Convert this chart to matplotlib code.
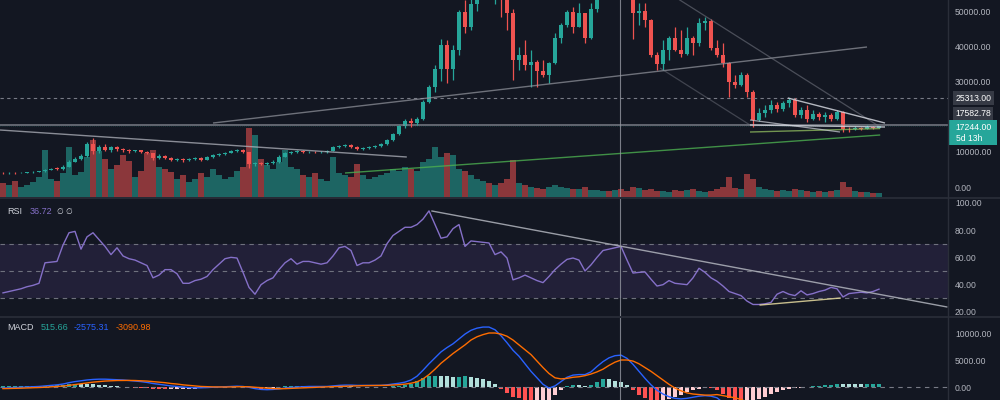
import matplotlib
matplotlib.use('Agg')
import matplotlib.pyplot as plt
import matplotlib.transforms as mtransforms
from matplotlib.patches import Rectangle
from matplotlib.lines import Line2D
import numpy as np

plt.rcParams['font.family'] = ['Liberation Sans', 'DejaVu Sans']

# ---------------- data ----------------
opens = [
    4100, 4000, 4050, 4000, 4100, 4200, 4300, 4500, 5000, 5300,
    5200, 5800, 7300, 8000, 8800, 12300, 10300, 11400, 10600, 11300,
    10800, 10500, 10200, 10500, 10000, 9600, 8300, 8900, 8300, 7700,
    8000, 7600, 8000, 8300, 7800, 8600, 9100, 9300, 9800, 10200,
    10600, 9900, 6600, 6900, 6700, 6900, 7200, 8700, 9600, 10000,
    10300, 10000, 10100, 9900, 10000, 10300, 11400, 11700, 12000, 11400,
    10900, 11100, 11400, 11700, 12300, 13400, 15000, 17400, 18800, 18200,
    19300, 24200, 28400, 33600, 40300, 33600, 38900, 49700, 45500, 52000,
    57000, 58000, 56000, 58500, 53000, 49500, 36100, 37500, 34700, 35500,
    33000, 31800, 35300, 42300, 46000, 49700, 45500, 49400, 42300, 50500,
    55900, 61600, 60000, 66000, 64000, 57500, 49400, 50000, 47400, 37500,
    35000, 38900, 42300, 39000, 37800, 42300, 40900, 46500, 47300, 39500,
    37500, 35200, 29900, 29000, 31800, 26900, 19100, 21000, 21900, 23300,
    22200, 23900, 24800, 20500, 21900, 19400, 20800, 19900, 20500, 19400,
    21300, 16600, 16400, 16900, 16600, 17000, 16900,
]
closes = [
    4000, 4050, 4000, 4100, 4200, 4300, 4500, 5000, 5300, 5200,
    5800, 7300, 8000, 8800, 12300, 10300, 11400, 10600, 11300, 10800,
    10500, 10200, 10500, 10000, 9600, 8300, 8900, 8300, 7700, 8000,
    7600, 8000, 8300, 7800, 8600, 9100, 9300, 9800, 10200, 10600,
    9900, 6600, 6900, 6700, 6900, 7200, 8700, 9600, 10000, 10300,
    10000, 10100, 9900, 10000, 10300, 11400, 11700, 12000, 11400, 10900,
    11100, 11400, 11700, 12300, 13400, 15000, 17400, 18800, 18200, 19300,
    24200, 28400, 33600, 40300, 33600, 38900, 49700, 45500, 52000, 57000,
    58000, 56000, 58500, 53000, 49500, 36100, 37500, 34700, 35500, 33000,
    31800, 35300, 42300, 46000, 49700, 45500, 49400, 42300, 50500, 55900,
    61600, 60000, 66000, 64000, 57500, 49400, 50000, 47400, 37500, 35000,
    38900, 42300, 39000, 37800, 42300, 40900, 46500, 47300, 39500, 37500,
    35200, 29900, 29000, 31800, 26900, 19100, 21000, 21900, 23300, 22200,
    23900, 24800, 20500, 21900, 19400, 20800, 19900, 20500, 19400, 21300,
    16600, 16400, 16900, 16600, 17000, 16900, 17244,
]
highs = [
    4300, 4200, 4200, 4300, 4400, 4500, 4700, 5300, 5600, 5700,
    6200, 7700, 8500, 9400, 12900, 13900, 12000, 12200, 11800, 11600,
    11000, 10900, 10700, 10700, 10300, 9800, 9300, 9200, 8500, 8300,
    8200, 8300, 8600, 8500, 8900, 9400, 9600, 10100, 10500, 10900,
    10800, 10100, 7200, 7200, 7200, 7600, 9100, 10100, 10300, 10600,
    10500, 10400, 10300, 10300, 10500, 11800, 12100, 12300, 12200, 11600,
    11400, 11700, 12000, 12600, 13700, 15300, 17800, 19300, 19600, 19900,
    24800, 29000, 34700, 42100, 41800, 40300, 50300, 53000, 55000, 59000,
    61000, 60000, 61500, 59500, 55000, 50500, 39800, 41800, 38900, 36100,
    36100, 35500, 43800, 46600, 50300, 51100, 52300, 49500, 52300, 58000,
    63000, 64800, 69000, 68500, 66500, 59000, 52300, 52300, 47700, 38500,
    41800, 43000, 45500, 44600, 45500, 43000, 48000, 48300, 47700, 41800,
    40900, 35500, 31800, 32700, 32300, 27500, 22500, 23300, 24800, 24200,
    24500, 25400, 25300, 22800, 23300, 21900, 21300, 21300, 21000, 21900,
    21600, 17100, 17300, 17200, 17600, 17400, 17500,
]
lows = [
    3800, 3850, 3800, 3900, 3950, 4100, 4200, 4400, 4900, 4900,
    5000, 5700, 7200, 7800, 8600, 9500, 9800, 10300, 10000, 10400,
    10000, 9800, 9900, 9600, 9300, 7800, 8000, 8000, 7400, 7500,
    7300, 7400, 7800, 7500, 7700, 8400, 8900, 9100, 9600, 9900,
    9600, 5500, 6000, 6300, 6400, 6700, 7000, 8600, 9400, 9800,
    9700, 9800, 9700, 9800, 9800, 10200, 11200, 11500, 11100, 10600,
    10700, 10900, 11200, 11400, 12000, 13100, 14800, 16800, 17100, 17700,
    19100, 24000, 27000, 30000, 29600, 30400, 37500, 43800, 44600, 50000,
    53500, 54000, 52000, 48300, 44600, 30400, 33300, 33300, 28400, 28400,
    31300, 29600, 35000, 40900, 45500, 43800, 45500, 41000, 42000, 49700,
    54500, 57000, 59000, 61000, 55500, 42000, 46000, 45500, 36900, 33300,
    33300, 36000, 38700, 37000, 37600, 37500, 40000, 44600, 38900, 36900,
    34100, 25600, 28100, 28600, 25600, 17100, 18800, 20000, 21000, 21300,
    21600, 22800, 19900, 19600, 18500, 19100, 19100, 18500, 18800, 19100,
    15600, 15800, 16200, 16300, 16400, 16600, 16800,
]
volume = [
    14, 12, 16, 10, 12, 15, 20, 47, 18, 16,
    24, 50, 22, 25, 40, 57, 46, 38, 28, 32,
    42, 36, 20, 26, 44, 47, 30, 28, 25, 18,
    22, 15, 18, 24, 20, 28, 22, 18, 20, 26,
    30, 69, 62, 38, 32, 28, 35, 47, 30, 28,
    22, 20, 24, 18, 16, 40, 24, 22, 20, 33,
    22, 18, 20, 22, 24, 28, 26, 30, 28, 26,
    35, 38, 50, 40, 44, 42, 28, 26, 22, 18,
    16, 14, 12, 14, 18, 37, 14, 12, 10, 9,
    8, 10, 12, 10, 9, 8, 8, 10, 7, 7,
    6, 6, 7, 8, 6, 10, 9, 7, 8, 6,
    6, 5, 7, 6, 7, 8, 6, 5, 6, 8,
    10, 20, 9, 8, 23, 18, 10, 8, 7, 6,
    7, 6, 8, 7, 6, 5, 6, 5, 6, 7,
    15, 10, 6, 5, 5, 4, 4,
]
rsi = [
    34, 35, 36, 37, 38.5, 39.5, 41, 56, 56.5, 57,
    69, 78, 79, 66, 75, 78, 73, 68, 62, 67,
    61, 59, 58, 56, 54, 45, 47, 51, 51, 48,
    41, 41, 43, 44, 46, 51, 55, 59, 60, 59.5,
    49, 38, 33, 40, 43, 45, 51, 56, 59, 55,
    57, 57, 56, 55, 56, 61, 67, 68, 65, 54,
    56, 56, 58, 61, 70, 76, 79, 82, 82, 84,
    88, 94, 84, 74, 75, 81, 84, 68, 72, 71.5,
    71, 70.5, 62, 64, 59.5, 43.5, 45, 47, 45, 43,
    41.5, 46, 51, 55, 58.5, 59.5, 58, 50, 54.5, 60,
    65, 66, 67, 68, 58, 48.5, 49, 49.3, 44, 39,
    40, 43, 41, 40.5, 40, 45, 52, 49, 45, 42.5,
    39, 35, 33.5, 32, 28, 25.5, 25.5, 26, 27, 33,
    35, 33, 32, 35.5, 32.5, 33.5, 35, 36, 38, 37,
    31, 33.5, 34, 34.5, 34, 35, 36.72,
]
macd = [
    -200, -150, -100, -50, 0, 50, 100, 200, 300, 400,
    550, 800, 1000, 1150, 1300, 1400, 1450, 1450, 1400, 1350,
    1300, 1200, 1100, 1000, 850, 650, 500, 350, 200, 100,
    0, -100, -150, -150, -100, -50, 0, 50, 100, 150,
    100, -50, -300, -450, -500, -450, -350, -200, -100, 0,
    50, 100, 100, 100, 100, 200, 300, 350, 350, 300,
    300, 300, 300, 300, 400, 550, 700, 900, 1300, 2000,
    3100, 4300, 5400, 6500, 7300, 8000, 8900, 9800, 10500, 10900,
    11100, 11100, 10600, 9500, 8200, 6800, 5700, 4300, 2900, 1700,
    500, -200, 200, 1000, 1800, 2200, 2300, 2300, 2800, 3800,
    4700, 5400, 5800, 5900, 5300, 4200, 2900, 1600, 400, -600,
    -1300, -1800, -2100, -2200, -2100, -1900, -1700, -1600, -1700, -2000,
    -2900, -3800, -4600, -5100, -5600, -6000, -6100, -6000, -5800, -5600,
    -5400, -5100, -4850, -4600, -4350, -4100, -3850, -3600, -3350, -3100,
    -3000, -2900, -2800, -2720, -2650, -2600, -2575.31,
]
signal = [
    -300, -280, -250, -220, -180, -140, -100, -50, 20, 100,
    180, 300, 450, 600, 750, 900, 1000, 1100, 1150, 1200,
    1220, 1220, 1200, 1150, 1100, 1000, 900, 800, 650, 550,
    400, 300, 200, 100, 50, 20, 0, 0, 20, 50,
    60, 40, -50, -150, -250, -300, -320, -300, -250, -200,
    -150, -100, -50, 0, 30, 70, 120, 170, 210, 230,
    250, 260, 280, 290, 310, 360, 430, 530, 700, 950,
    1500, 2300, 3300, 4400, 5300, 6200, 7000, 7800, 8700, 9300,
    9700, 10000, 10000, 9800, 9400, 8700, 7800, 6900, 6000, 4800,
    3600, 2500, 1700, 1500, 1600, 1800, 1900, 2100, 2400, 2800,
    3300, 4000, 4600, 5000, 5000, 4800, 4300, 3600, 2900, 2100,
    1300, 500, -200, -700, -1100, -1300, -1400, -1500, -1500, -1400,
    -1600, -1800, -2000, -2300, -2800, -3300, -3800, -4200, -4500, -4700,
    -4800, -4700, -4600, -4500, -4400, -4250, -4100, -3950, -3800, -3650,
    -3500, -3380, -3280, -3200, -3140, -3110, -3090.98,
]
histogram = [
    100, 130, 150, 170, 180, 190, 200, 250, 280, 300,
    370, 500, 550, 550, 550, 500, 450, 350, 250, 150,
    80, -20, -100, -150, -250, -350, -400, -450, -450, -450,
    -400, -400, -350, -250, -150, -70, 0, 50, 80, 100,
    40, -90, -250, -300, -250, -150, -30, 100, 150, 200,
    200, 200, 150, 100, 70, 130, 180, 180, 140, 70,
    50, 40, 20, 10, 90, 190, 270, 370, 600, 1050,
    1600, 2000, 2100, 2100, 2000, 1800, 1900, 2000, 1800, 1600,
    1400, 1100, 600, -300, -1200, -1900, -2100, -2600, -3100, -3100,
    -3100, -2700, -1500, -500, 200, 400, 400, 200, 400, 1000,
    1400, 1400, 1200, 900, 300, -600, -1400, -2000, -2500, -2700,
    -2600, -2300, -1900, -1500, -1000, -600, -300, -100, -200, -600,
    -1300, -2000, -2600, -2800, -2800, -2700, -2300, -1800, -1300, -900,
    -600, -400, -250, -100, 50, 150, 250, 350, 450, 550,
    500, 480, 480, 480, 490, 510, 515.66,
]

price_ticks = [0, 10000, 30000, 40000, 50000]
rsi_ticks = [20, 40, 60, 80, 100]
macd_ticks = [0, 5000, 10000]
last_price = 17244.00
level_dashed = 25313.00
level_solid = 17582.78
countdown = "5d 13h"
crosshair_bar = 102.8

# drawings (bar index, price)
tl_desc_left = ([-0.5, 67.3], [16240, 8580])
tl_rise = ([35.0, 144.0], [18220, 39790])
tl_green = ([57.0, 146.2], [4040, 14820])
tl_green2 = ([124.5, 146.2], [15670, 16650])
tl_chan_a = ([110.0, 146.2], [56140, 17090])
tl_chan_b = ([109.5, 124.5], [33830, 17660])
tl_tri_up = ([130.8, 147.0], [25320, 18220])
tl_tri_low = ([124.5, 147.0], [17660, 17090])
tl_tri_in = ([124.5, 139.5], [19080, 15670])
rsi_trend = ([71.5, 157.3], [93.9, 23.7])
rsi_support = ([126.2, 139.5], [25.1, 30.2])

# ---------------- style ----------------
BG = '#131722'
UP = '#26a69a'
DOWN = '#ef5350'
GRID = '#2a2e39'
TXT = '#b2b5be'

fig = plt.figure(figsize=(10, 4), dpi=100, facecolor=BG)
W = 0.948
ax_vol = fig.add_axes([0, 1 - 197 / 400, W, 197 / 400])
ax_p = fig.add_axes([0, 1 - 197 / 400, W, 197 / 400])
ax_r = fig.add_axes([0, 1 - 316 / 400, W, 117 / 400])
ax_m = fig.add_axes([0, 0, W, 82 / 400])

x = np.arange(len(closes))
o = np.array(opens, float)
c = np.array(closes, float)
h = np.array(highs, float)
l = np.array(lows, float)
up = c >= o
cols = np.where(up, UP, DOWN)

for a in (ax_vol, ax_p, ax_r, ax_m):
    a.set_xlim(-0.5, 157.5)
    for s in a.spines.values():
        s.set_visible(False)
    a.set_xticks([])
ax_vol.set_facecolor(BG)
ax_p.set_facecolor('none')
ax_r.set_facecolor(BG)
ax_m.set_facecolor(BG)

# volume
ax_vol.bar(x, volume, width=0.88, color=cols, alpha=0.55, linewidth=0)
ax_vol.set_ylim(0, 197)
ax_vol.set_yticks([])

# price
ax_p.set_ylim(-2768, 53121)
ax_p.axhline(level_dashed, color='#787b86', lw=0.8, ls=(0, (3, 3)))
ax_p.axhline(level_solid, color='#868993', lw=1.3, alpha=0.75)
ax_p.axhline(last_price, color=UP, lw=0.5, ls=(0, (1, 2)), alpha=0.35)
ax_p.vlines(x, l, h, colors=cols, lw=0.9)
body_b = np.minimum(o, c)
body_h = np.maximum(np.abs(c - o), 120)
ax_p.bar(x, body_h, bottom=body_b, width=0.62, color=cols, linewidth=0)

for (xs, ys), col, lw, al in [
    (tl_desc_left, '#b2b5be', 1.0, 0.75),
    (tl_rise, '#9598a1', 1.0, 0.7),
    (tl_green, '#4caf50', 1.0, 0.8),
    (tl_green2, '#9ccc65', 1.0, 0.7),
    (tl_chan_a, '#787b86', 0.9, 0.55),
    (tl_chan_b, '#787b86', 0.9, 0.45),
    (tl_tri_up, '#d1d4dc', 1.0, 0.85),
    (tl_tri_low, '#d1d4dc', 1.0, 0.85),
    (tl_tri_in, '#d1d4dc', 0.9, 0.7),
]:
    ax_p.plot(xs, ys, color=col, lw=lw, alpha=al, solid_capstyle='butt')

ax_p.yaxis.tick_right()
ax_p.set_yticks(price_ticks)
ax_p.set_yticklabels([f"{v:.2f}" for v in price_ticks])

# RSI
ax_r.set_ylim(17.07, 102.7)
ax_r.axhspan(30, 70, color='#7e57c2', alpha=0.14, lw=0)
for lv in (70, 50, 30):
    ax_r.axhline(lv, color='#787b86', lw=0.8, ls=(0, (4, 4)), alpha=0.9)
ax_r.plot(x, rsi, color='#8570c8', lw=1.0)
ax_r.plot(*rsi_trend, color='#b2b5be', lw=1.0, alpha=0.85)
ax_r.plot(*rsi_support, color='#e8dca0', lw=1.0, alpha=0.85)
ax_r.yaxis.tick_right()
ax_r.set_yticks(rsi_ticks)
ax_r.set_yticklabels([f"{v:.2f}" for v in rsi_ticks])

# MACD
ax_m.set_ylim(-2407, 12778)
ax_m.axhline(0, color='#787b86', lw=0.8, ls=(0, (4, 4)))
hc = []
prev = 0
for v in histogram:
    if v >= 0:
        hc.append('#26a69a' if v > prev else '#b2dfdb')
    else:
        hc.append('#ff5252' if v < prev else '#ffcdd2')
    prev = v
ax_m.bar(x, histogram, width=0.72, color=hc, linewidth=0)
ax_m.plot(x, macd, color='#2962ff', lw=1.0)
ax_m.plot(x, signal, color='#ff6d00', lw=1.0)
ax_m.yaxis.tick_right()
ax_m.set_yticks(macd_ticks)
ax_m.set_yticklabels([f"{v:.2f}" for v in macd_ticks])

for a in (ax_p, ax_r, ax_m):
    a.tick_params(axis='y', length=0, pad=5, labelsize=6.2, labelcolor=TXT)
    a.axvline(crosshair_bar, color='#9598a1', lw=0.8, alpha=0.8)

# separators
fig.add_artist(Line2D([0, 1], [1 - 198 / 400] * 2, transform=fig.transFigure, color=GRID, lw=1.2))
fig.add_artist(Line2D([0, 1], [1 - 317 / 400] * 2, transform=fig.transFigure, color=GRID, lw=1.2))
fig.add_artist(Line2D([W, W], [0, 1], transform=fig.transFigure, color=GRID, lw=1.0))

# price labels
bl = mtransforms.blended_transform_factory(ax_p.transAxes, ax_p.transData)
ax_p.text(1.008, level_dashed, f"{level_dashed:.2f}", transform=bl, ha='left', va='center',
          fontsize=6.2, color='white', clip_on=False,
          bbox=dict(boxstyle='square,pad=0.25', fc='#363a45', ec='none'))
ax_p.text(1.008, 20780, f"{level_solid:.2f}", transform=bl, ha='left', va='center',
          fontsize=6.2, color='white', clip_on=False,
          bbox=dict(boxstyle='square,pad=0.25', fc='#363a45', ec='none'))
fig.add_artist(Rectangle((0.948, 1 - 145 / 400), 0.049, 25 / 400, transform=fig.transFigure,
                         fc=UP, ec='none'))
fig.text(0.9555, 1 - 127 / 400, f"{last_price:.2f}", ha='left', va='center', fontsize=6.2, color='white')
fig.text(0.9555, 1 - 138.5 / 400, countdown, ha='left', va='center', fontsize=6.2, color='white')

# indicator legends
fig.text(0.007, 1 - 211 / 400, "RSI", ha='left', va='center', fontsize=6.5, color='#d1d4dc')
fig.text(0.030, 1 - 211 / 400, f"{rsi[-1]:.2f}", ha='left', va='center', fontsize=6.5, color='#8570c8')
fig.text(0.057, 1 - 211 / 400, "\u2205 \u2205", ha='left', va='center', fontsize=5.5,
         color='#d1d4dc', family='DejaVu Sans')
fig.text(0.007, 1 - 328 / 400, "MACD", ha='left', va='center', fontsize=6.5, color='#d1d4dc')
fig.text(0.041, 1 - 328 / 400, f"{histogram[-1]:.2f}", ha='left', va='center', fontsize=6.5, color=UP)
fig.text(0.074, 1 - 328 / 400, f"{macd[-1]:.2f}", ha='left', va='center', fontsize=6.5, color='#2962ff')
fig.text(0.116, 1 - 328 / 400, f"{signal[-1]:.2f}", ha='left', va='center', fontsize=6.5, color='#ff6d00')

fig.savefig('out.png', dpi=100, facecolor=BG)
